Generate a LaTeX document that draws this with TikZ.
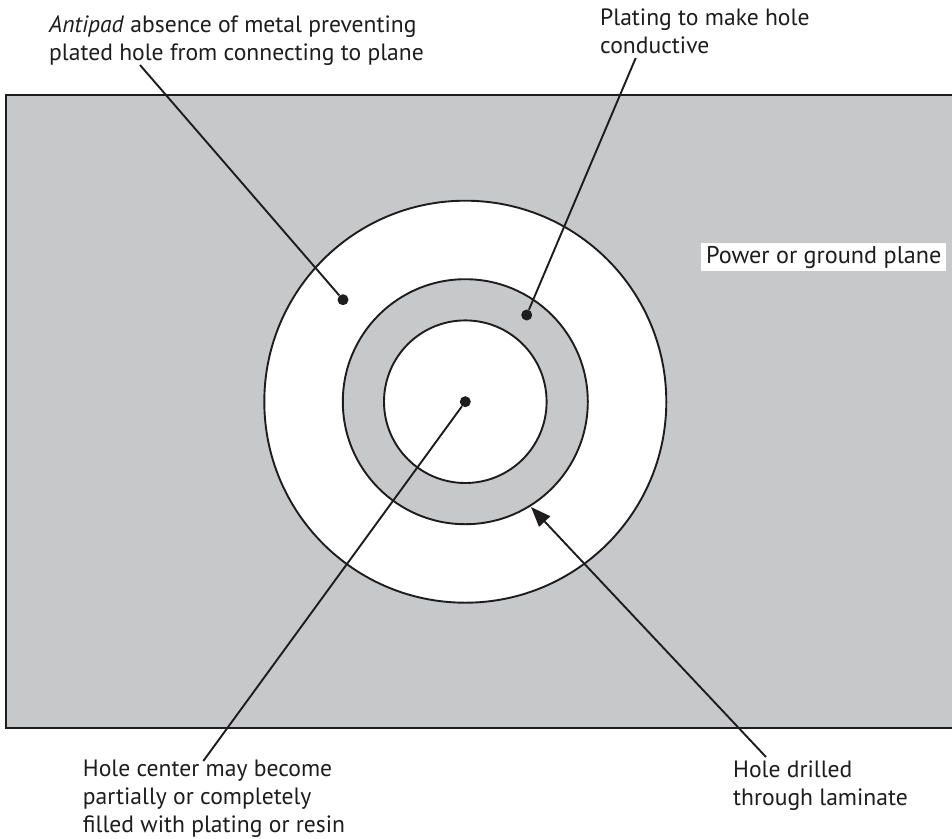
\documentclass[tikz,border=0pt]{standalone}
\usepackage{fontspec}
\setmainfont{PT Sans}
\definecolor{plane}{RGB}{198,200,202}
\definecolor{ink}{RGB}{30,28,29}
\usetikzlibrary{arrows.meta}
\tikzset{
 lab/.style={inner sep=0pt,align=left,anchor=base west,font=\fontsize{23.6}{27.7}\selectfont,text=ink},
 ring/.style={draw=ink,line width=1.9pt},
 lead/.style={draw=ink,line width=1.9pt},
 dot/.style={circle,fill=ink,inner sep=0pt,minimum size=11pt}
}
\begin{document}
\begin{tikzpicture}[x=1pt,y=-1pt]
\useasboundingbox (0,0) rectangle (952,838);
\fill[white] (0,0) rectangle (952,838);
\fill[plane] (6,95) rectangle (952,728);
\draw[ring] (953,95) -- (6,95) -- (6,728) -- (953,728);
\coordinate (c) at (465.3,401.7);
\draw[ring,fill=white] (c) circle[radius=201];
\draw[ring,fill=plane] (c) circle[radius=122.5];
\draw[ring,fill=white] (c) circle[radius=81.3];
\node[dot] (d1) at (343,299.7) {};
\node[dot] (d2) at (526.7,315) {};
\node[dot] (d3) at (c) {};
\coordinate (e1) at (140,65);
\coordinate (e2) at (635.7,58);
\coordinate (e3) at (203.3,761);
\coordinate (e4) at (766,757);
\coordinate (tip) at (531,507);
\draw[lead] (e1) -- (d1);
\draw[lead] (e2) -- (d2);
\draw[lead] (e3) -- (d3);
\draw[lead,-{Triangle[length=20pt,width=15pt]}] (e4) -- (tip);
\node[lab] (t1) at (49,60) {\textit{Antipad} absence of metal preventing\\plated hole from connecting to plane};
\node[lab] (t2) at (600,53) {Plating to make hole\\conductive};
\node[lab,fill=white,inner xsep=5pt,inner ysep=3pt,font=\fontsize{24.2}{28}\selectfont] (t3) at (701,263) {Power or ground plane};
\node[lab] (t5) at (82.7,832) {Hole center may become\\partially or completely\\filled with plating or resin};
\node[lab] (t6) at (733,805) {Hole drilled\\through laminate};
\end{tikzpicture}
\end{document}
